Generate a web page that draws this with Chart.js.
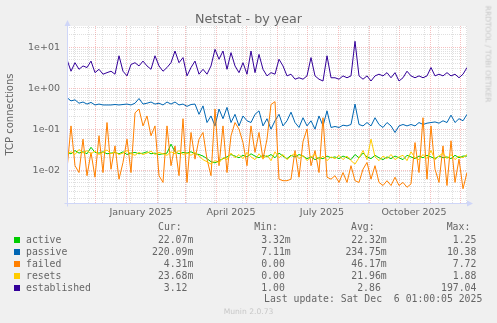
<!DOCTYPE html>
<html>
<head>
<meta charset="utf-8">
<script src="https://cdn.jsdelivr.net/npm/chart.js@4.4.1/dist/chart.umd.min.js"></script>
<style>
  body { margin: 0; background: #f0f0f0; }
  #wrap { position: relative; width: 497px; height: 323px; overflow: hidden; }
  #chart { position: absolute; left: 0; top: 0; }
  .txt { position: absolute; color: #666; white-space: pre; }
  .title { left: 0; width: 497px; top: 11px; text-align: center; font: 12.7px "DejaVu Sans"; line-height: 15px; }
  .side { left: 487.5px; top: 53.5px; transform: translate(-50%, -50%) rotate(90deg); font: 7.5px "DejaVu Sans"; color: #c8c8c8; line-height: 9px; }
  .ver { left: 0; width: 497px; top: 307px; text-align: center; font: 7.6px "DejaVu Sans"; color: #c8c8c8; line-height: 10px; }
  .mono { font: 9.8px "DejaVu Sans Mono"; line-height: 12px; }
  .box { position: absolute; width: 6px; height: 6px; }
</style>
</head>
<body>
<div id="wrap">
  <canvas id="chart" width="497" height="323"></canvas>
  <div class="txt title">Netstat - by year</div>
  <div class="txt side">RRDTOOL / TOBI OETIKER</div>
  <div class="txt ver">Munin 2.0.73</div>
  <div id="legend"></div>
</div>
<script>
// samples every 4 days, first sample on 3 Nov 2024
var STEP_DAYS = 4;

var active = [
  0.027, 0.025, 0.030, 0.026, 0.028, 0.025, 0.036, 0.027, 0.026, 0.028, 0.025, 0.026, 0.027, 0.025, 0.028, 0.024, 0.026,
  0.027, 0.025, 0.026, 0.028, 0.025, 0.026, 0.024, 0.025, 0.026, 0.043, 0.028, 0.025, 0.027, 0.026, 0.028, 0.025, 0.024,
  0.022, 0.019, 0.016, 0.015, 0.017, 0.019, 0.021, 0.024, 0.022, 0.020, 0.023, 0.021, 0.025, 0.022, 0.020, 0.023, 0.021,
  0.024, 0.020, 0.026, 0.022, 0.019, 0.023, 0.021, 0.024, 0.022, 0.019, 0.021, 0.018, 0.020, 0.019, 0.022, 0.020,
  0.021, 0.019, 0.022, 0.020, 0.018, 0.024, 0.020, 0.026, 0.021, 0.019, 0.023, 0.020, 0.018, 0.021, 0.019, 0.022, 0.020,
  0.018, 0.023, 0.021, 0.019, 0.022, 0.020, 0.023, 0.021, 0.019, 0.022, 0.020, 0.021, 0.019, 0.023, 0.020, 0.022, 0.022
];
var passive = [
  0.59, 0.49, 0.52, 0.43, 0.46, 0.41, 0.45, 0.39, 0.41, 0.39, 0.39, 0.39, 0.40, 0.39, 0.40, 0.41, 0.39,
  0.43, 0.56, 0.41, 0.43, 0.46, 0.41, 0.43, 0.39, 0.46, 0.41, 0.46, 0.39, 0.41, 0.36, 0.40, 0.41, 0.23,
  0.37, 0.145, 0.21, 0.12, 0.31, 0.18, 0.34, 0.145, 0.23, 0.12, 0.21, 0.16, 0.145, 0.23, 0.28, 0.12, 0.18,
  0.10, 0.16, 0.23, 0.12, 0.16, 0.26, 0.145, 0.11, 0.19, 0.12, 0.16, 0.10, 0.21, 0.12, 0.28, 0.11,
  0.116, 0.11, 0.125, 0.12, 0.13, 0.41, 0.13, 0.12, 0.145, 0.12, 0.19, 0.13, 0.11, 0.145, 0.12, 0.083, 0.12,
  0.13, 0.12, 0.13, 0.12, 0.145, 0.13, 0.14, 0.145, 0.15, 0.14, 0.16, 0.145, 0.22, 0.145, 0.18, 0.16, 0.23
];
var failed = [
  0.0105, 0.12, 0.0128, 0.0087, 0.057, 0.0073, 0.027, 0.0067, 0.069, 0.0087, 0.145, 0.0105, 0.039, 0.006, 0.0154, 0.057, 0.0087,
  0.25, 0.31, 0.12, 0.21, 0.069, 0.12, 0.0073, 0.005, 0.12, 0.0128, 0.039, 0.0073, 0.18, 0.005, 0.083, 0.0185, 0.057,
  0.083, 0.0185, 0.0073, 0.31, 0.0128, 0.12, 0.0087, 0.069, 0.145, 0.1, 0.047, 0.0128, 0.12, 0.027, 0.083, 0.0185,
  0.057, 0.40, 0.47, 0.006, 0.0055, 0.0055, 0.006, 0.03, 0.0067, 0.05, 0.1, 0.0128, 0.03, 0.0087, 0.19, 0.0067, 0.006,
  0.0073, 0.005, 0.0087, 0.005, 0.0128, 0.0055, 0.005, 0.0105, 0.0154, 0.006, 0.0128, 0.005, 0.0042, 0.0055, 0.0042, 0.0067, 0.0042,
  0.005, 0.0038, 0.0046, 0.047, 0.0087, 0.19, 0.006, 0.12, 0.0105, 0.005, 0.039, 0.0042, 0.052, 0.005, 0.0185, 0.0035, 0.0087
];
var resets = [
  0.025, 0.028, 0.024, 0.032, 0.026, 0.030, 0.025, 0.029, 0.024, 0.027, 0.031, 0.025, 0.028, 0.024, 0.026, 0.030, 0.025,
  0.023, 0.027, 0.024, 0.026, 0.029, 0.024, 0.027, 0.025, 0.023, 0.028, 0.025, 0.030, 0.024, 0.026, 0.023, 0.027, 0.022,
  0.018, 0.016, 0.014, 0.017, 0.015, 0.020, 0.018, 0.026, 0.020, 0.024, 0.019, 0.027, 0.021, 0.018, 0.025, 0.019, 0.023,
  0.017, 0.028, 0.020, 0.024, 0.018, 0.022, 0.026, 0.019, 0.023, 0.017, 0.021, 0.024, 0.018, 0.022, 0.017, 0.021,
  0.019, 0.023, 0.018, 0.022, 0.017, 0.014, 0.020, 0.030, 0.018, 0.057, 0.021, 0.017, 0.022, 0.019, 0.024, 0.018, 0.021,
  0.023, 0.017, 0.028, 0.020, 0.018, 0.024, 0.019, 0.030, 0.018, 0.022, 0.026, 0.019, 0.024, 0.018, 0.022, 0.020, 0.024
];
var established = [
  5.0, 2.6, 4.2, 2.9, 3.5, 3.2, 4.6, 2.4, 2.9, 2.2, 2.4, 2.6, 2.2, 6.2, 2.6, 2.0, 3.8,
  4.2, 3.5, 4.6, 3.5, 2.9, 6.2, 3.5, 2.6, 3.2, 4.2, 8.1, 4.2, 5.6, 2.0, 3.2, 4.6, 2.2,
  2.9, 2.2, 3.5, 8.9, 5.1, 8.1, 2.9, 7.4, 3.5, 2.4, 4.2, 2.2, 8.1, 2.4, 6.7, 2.9, 2.0,
  2.4, 2.2, 5.1, 3.5, 2.0, 2.2, 1.66, 1.8, 1.66, 2.0, 5.6, 2.0, 1.66, 1.5, 6.2, 1.8,
  1.8, 1.66, 2.0, 1.8, 2.0, 14, 2.0, 1.66, 2.0, 1.5, 2.0, 2.2, 2.0, 2.4, 1.8, 2.4, 1.5,
  1.8, 2.6, 2.0, 1.8, 2.0, 1.8, 2.0, 3.2, 2.0, 2.2, 2.0, 2.4, 2.0, 2.2, 1.8, 2.2, 3.2
];

var seriesNames = ["active", "passive", "failed", "resets", "established"];
var seriesColors = ["#00cc00", "#0066b3", "#ff8000", "#ffcc00", "#330099"];
var curVals = ["22.07m", "220.09m", "4.31m", "23.68m", "3.12 "];
var minVals = ["3.32m", "7.11m", "0.00 ", "0.00 ", "1.00 "];
var avgVals = ["22.32m", "234.75m", "46.17m", "21.96m", "2.86 "];
var maxVals = ["1.25 ", "10.38 ", "7.72 ", "1.88 ", "197.04 "];
var lastUpdate = "Last update: Sat Dec  6 01:00:05 2025";

var xLabels = ["January 2025", "April 2025", "July 2025", "October 2025"];

// time grid (days since 3 Nov 2024)
var START = Date.UTC(2024, 10, 3);
function dayOf(y, m, d) { return (Date.UTC(y, m, d) - START) / 86400000; }

var monthDays = [];
for (var k = 0; k < 13; k++) monthDays.push(dayOf(2024, 11 + k, 1));
var weekDays = [];
for (var w = 7; w <= 400; w += 14) weekDays.push(w);
var labelDays = [dayOf(2025, 0, 16), dayOf(2025, 3, 16), dayOf(2025, 6, 16), dayOf(2025, 9, 16)];

var sampleDays = active.map(function (_, i) { return i * STEP_DAYS; });

var MINOR = "rgba(140,140,140,0.28)";
var MAJOR = "rgba(232,90,90,0.38)";
var AXIS = "#cfd6f8";
var Y_MIN = 0.00157, Y_MAX = 33.1;

function isDecade(v) {
  var e = Math.round(Math.log10(v));
  return Math.abs(v / Math.pow(10, e) - 1) < 1e-6;
}
function fmtExp(v) {
  var e = Math.round(Math.log10(v));
  var s = String(Math.abs(e)).padStart(2, "0");
  return "1e" + (e < 0 ? "-" : "+") + s;
}

// white canvas + axis arrows like rrdtool
var frame = {
  id: "frame",
  beforeDraw: function (chart) {
    var a = chart.chartArea, c = chart.ctx;
    c.save();
    c.fillStyle = "#ffffff";
    c.fillRect(a.left, a.top, a.right - a.left, a.bottom - a.top);
    c.restore();
  },
  afterDraw: function (chart) {
    var a = chart.chartArea, c = chart.ctx;
    var x0 = Math.round(a.left) + 0.5, y0 = Math.round(a.bottom) + 0.5;
    c.save();
    c.strokeStyle = AXIS;
    c.fillStyle = AXIS;
    c.lineWidth = 1;
    c.beginPath();
    c.moveTo(x0, y0 + 3);
    c.lineTo(x0, a.top - 2);
    c.moveTo(x0 - 3, y0);
    c.lineTo(a.right + 2, y0);
    c.stroke();
    c.beginPath();
    c.moveTo(x0, a.top - 6);
    c.lineTo(x0 - 3, a.top);
    c.lineTo(x0 + 3, a.top);
    c.closePath();
    c.fill();
    c.beginPath();
    c.moveTo(a.right + 6, y0);
    c.lineTo(a.right, y0 - 3);
    c.lineTo(a.right, y0 + 3);
    c.closePath();
    c.fill();
    c.restore();
  }
};

var seriesData = [active, passive, failed, resets, established];
var datasets = seriesData.map(function (vals, i) {
  return {
    label: seriesNames[i],
    data: vals,
    borderColor: seriesColors[i],
    borderWidth: 1,
    pointRadius: 0,
    tension: 0,
    fill: false,
    order: seriesData.length - i
  };
});

var ctx = document.getElementById("chart").getContext("2d");
var myChart = new Chart(ctx, {
  type: "line",
  data: { labels: sampleDays, datasets: datasets },
  plugins: [frame],
  options: {
    responsive: false,
    animation: false,
    events: [],
    layout: { padding: { left: 0, top: 26, right: 30, bottom: 100 } },
    plugins: { legend: { display: false }, tooltip: { enabled: false } },
    scales: {
      x: {
        type: "linear",
        min: 0,
        max: 400,
        afterBuildTicks: function (scale) {
          var all = monthDays.concat(weekDays, labelDays).filter(function (v) { return v >= 0 && v <= 400; });
          all.sort(function (a, b) { return a - b; });
          scale.ticks = all.map(function (v) { return { value: v }; });
        },
        afterFit: function (scale) { scale.height = 20; },
        grid: {
          drawTicks: false,
          color: function (c) {
            var v = c.tick && c.tick.value;
            if (monthDays.indexOf(v) >= 0) return MAJOR;
            if (weekDays.indexOf(v) >= 0) return MINOR;
            return "rgba(0,0,0,0)";
          }
        },
        border: { display: false, dash: [1, 1] },
        ticks: {
          autoSkip: false,
          maxRotation: 0,
          padding: 4,
          color: "#666",
          font: { family: "DejaVu Sans", size: 9.5 },
          callback: function (v) {
            var i = labelDays.indexOf(v);
            return i >= 0 ? xLabels[i] : "";
          }
        }
      },
      y: {
        type: "logarithmic",
        min: Y_MIN,
        max: Y_MAX,
        afterBuildTicks: function (scale) {
          var t = [];
          for (var e = -3; e <= 1; e++) {
            for (var m = 1; m <= 9; m++) {
              var v = m * Math.pow(10, e);
              if (v >= Y_MIN && v <= Y_MAX) t.push({ value: v });
            }
          }
          scale.ticks = t;
        },
        afterFit: function (scale) { scale.width = 67; },
        grid: {
          drawTicks: false,
          color: function (c) {
            return c.tick && isDecade(c.tick.value) ? MAJOR : MINOR;
          }
        },
        border: { display: false, dash: [1, 1] },
        title: {
          display: true,
          text: "TCP connections",
          color: "#666",
          font: { family: "DejaVu Sans", size: 10 },
          padding: { top: 4.5, bottom: 0 }
        },
        ticks: {
          autoSkip: false,
          padding: 7,
          color: "#666",
          font: { family: "DejaVu Sans", size: 9.5 },
          callback: function (v) { return isDecade(v) ? fmtExp(v) : ""; }
        }
      }
    }
  }
});

// legend table under the graph
var legend = document.getElementById("legend");
function put(text, css) {
  var d = document.createElement("div");
  d.className = "txt mono";
  d.textContent = text;
  for (var k in css) d.style[k] = css[k];
  legend.appendChild(d);
}
put("Cur:", { left: "158px", top: "221px" });
put("Min:", { left: "254.3px", top: "221px" });
put("Avg:", { left: "351px", top: "221px" });
put("Max:", { left: "446.7px", top: "221px" });
seriesNames.forEach(function (name, i) {
  var top = 234 + i * 11.9;
  var b = document.createElement("div");
  b.className = "box";
  b.style.left = "14px";
  b.style.top = (top + 3) + "px";
  b.style.background = seriesColors[i];
  legend.appendChild(b);
  put(name, { left: "26px", top: top + "px" });
  put(curVals[i], { right: (497 - 193.3) + "px", top: top + "px" });
  put(minVals[i], { right: (497 - 290.7) + "px", top: top + "px" });
  put(avgVals[i], { right: (497 - 386.7) + "px", top: top + "px" });
  put(maxVals[i], { right: (497 - 482.3) + "px", top: top + "px" });
});
put(lastUpdate, { right: (497 - 482.3) + "px", top: "293px" });
</script>
</body>
</html>
